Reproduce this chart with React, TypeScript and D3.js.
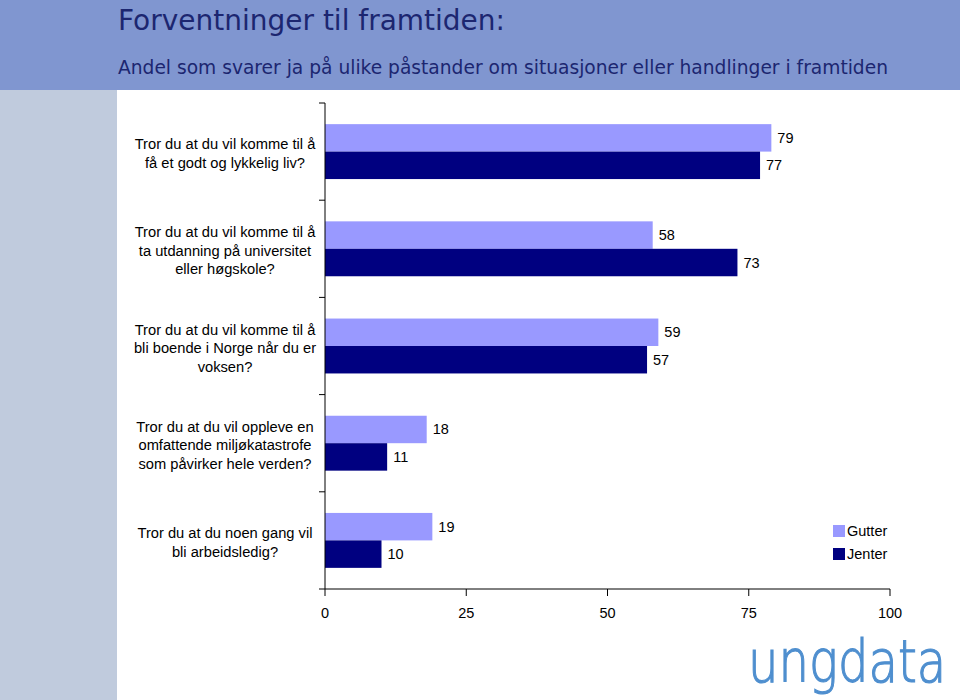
import React from 'react';
import * as d3 from 'd3';

const categories = [
  ['Tror du at du vil komme til å', 'få et godt og lykkelig liv?'],
  ['Tror du at du vil komme til å', 'ta utdanning på universitet', 'eller høgskole?'],
  ['Tror du at du vil komme til å', 'bli boende i Norge når du er', 'voksen?'],
  ['Tror du at du vil oppleve en', 'omfattende miljøkatastrofe', 'som påvirker hele verden?'],
  ['Tror du at du noen gang vil', 'bli arbeidsledig?'],
];
const seriesNames = ['Gutter', 'Jenter'];
const gutter = [79, 58, 59, 18, 19];
const jenter = [77, 73, 57, 11, 10];
const xTicks = [0, 25, 50, 75, 100];

const colors = { Gutter: '#9999ff', Jenter: '#000080' };
const font = '"Liberation Sans", Arial, sans-serif';

const App = () => {
  const keys = categories.map((_, i) => String(i));
  const x = d3.scaleLinear().domain([0, 100]).range([325, 890]);
  const y = d3.scaleBand().domain(keys).range([103, 589]).paddingInner(0).paddingOuter(0);
  const sub = d3.scaleBand().domain(seriesNames).range([0, y.bandwidth()]).paddingInner(0).paddingOuter(0.77);
  const values = { Gutter: gutter, Jenter: jenter };
  const boundaries = keys.map(k => y(k)).concat([589]);

  return (
    <svg width={960} height={700} style={{ position: 'absolute', left: 0, top: 0 }}>
      <rect x={0} y={0} width={960} height={700} fill="#fff" />
      <rect x={0} y={0} width={960} height={90} fill="#8096d0" />
      <rect x={0} y={90} width={117} height={610} fill="#c0cbdd" />
      <text x={118} y={30} fontFamily="DejaVu Sans, Verdana, sans-serif" fontSize={29} fill="#1c2670" textLength={387} lengthAdjust="spacingAndGlyphs">
        Forventninger til framtiden:
      </text>
      <text x={118} y={74} fontFamily="DejaVu Sans, Verdana, sans-serif" fontSize={20} fill="#1c2670" textLength={770} lengthAdjust="spacingAndGlyphs">
        Andel som svarer ja på ulike påstander om situasjoner eller handlinger i framtiden
      </text>

      {/* bars */}
      {keys.map((k, i) => (
        <g key={k}>
          {seriesNames.map(s => {
            const v = values[s][i];
            const by = y(k) + sub(s);
            return (
              <g key={s}>
                <rect x={x(0)} y={by} width={x(v) - x(0)} height={sub.bandwidth()} fill={colors[s]} />
                <text x={x(v) + 6} y={by + sub.bandwidth() / 2 + 5} fontFamily={font} fontSize={14.5} fill="#000">
                  {v}
                </text>
              </g>
            );
          })}
          {categories[i].map((line, j) => (
            <text
              key={j}
              x={225}
              y={y(k) + y.bandwidth() / 2 + 2 + (j - (categories[i].length - 1) / 2) * 18.5 + 5}
              textAnchor="middle"
              fontFamily={font}
              fontSize={14.7}
              fill="#000"
            >
              {line}
            </text>
          ))}
        </g>
      ))}

      {/* y axis */}
      <line x1={x(0)} x2={x(0)} y1={103} y2={589} stroke="#000" strokeWidth={1} />
      {boundaries.map((b, i) => (
        <line key={i} x1={x(0) - 6} x2={x(0)} y1={b} y2={b} stroke="#000" strokeWidth={1} />
      ))}

      {/* x axis */}
      <line x1={x(0)} x2={x(100)} y1={589} y2={589} stroke="#000" strokeWidth={1} />
      {xTicks.map(t => (
        <g key={t}>
          <line x1={x(t)} x2={x(t)} y1={589} y2={596} stroke="#000" strokeWidth={1} />
          <text x={x(t)} y={618} textAnchor="middle" fontFamily={font} fontSize={14.5} fill="#000">
            {t}
          </text>
        </g>
      ))}

      {/* legend */}
      {seriesNames.map((s, i) => (
        <g key={s}>
          <rect x={833} y={525 + i * 23} width={12} height={12} fill={colors[s]} />
          <text x={847} y={536 + i * 23} fontFamily={font} fontSize={14.5} fill="#000">
            {s}
          </text>
        </g>
      ))}

      {/* logo */}
      <g transform="translate(748,682) scale(0.83,1)">
        <text x={0} y={0} fontFamily="DejaVu Sans, sans-serif" fontWeight={200} fontSize={58} fill="#4f8fcf" stroke="#4f8fcf" strokeWidth={1.2}>
          ungdata
        </text>
      </g>
    </svg>
  );
};

export default App;
